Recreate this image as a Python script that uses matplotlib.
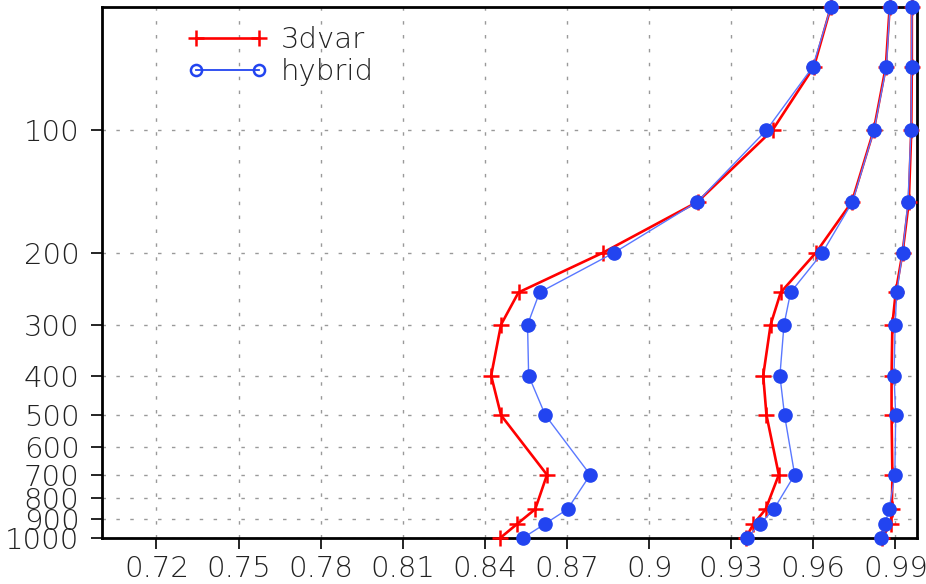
import matplotlib
matplotlib.use('Agg')
import matplotlib.pyplot as plt
from matplotlib.lines import Line2D

# pressure levels (hPa)
levels = [1000, 925, 850, 700, 500, 400, 300, 250, 200, 150, 100, 70, 50]

# 3dvar scores, three profiles
var3d_a = [0.8456, 0.8517, 0.8584, 0.8627, 0.8459, 0.8423, 0.8459, 0.8523, 0.8830, 0.9177, 0.9451, 0.9602, 0.9664]
var3d_b = [0.9353, 0.9381, 0.9426, 0.9474, 0.9429, 0.9417, 0.9444, 0.9481, 0.9609, 0.9741, 0.9821, 0.9865, 0.9879]
var3d_c = [0.9850, 0.9883, 0.9887, 0.9889, 0.9886, 0.9886, 0.9889, 0.9901, 0.9926, 0.9949, 0.9958, 0.9960, 0.9960]

# hybrid scores, same three profiles
hyb_a = [0.8539, 0.8618, 0.8702, 0.8785, 0.8621, 0.8560, 0.8556, 0.8600, 0.8871, 0.9176, 0.9429, 0.9598, 0.9664]
hyb_b = [0.9356, 0.9405, 0.9456, 0.9532, 0.9495, 0.9478, 0.9493, 0.9517, 0.9633, 0.9743, 0.9822, 0.9867, 0.9880]
hyb_c = [0.9847, 0.9862, 0.9877, 0.9898, 0.9901, 0.9895, 0.9899, 0.9905, 0.9926, 0.9946, 0.9957, 0.9959, 0.9960]

xticks = [0.72, 0.75, 0.78, 0.81, 0.84, 0.87, 0.9, 0.93, 0.96, 0.99]
yticks = [100, 200, 300, 400, 500, 600, 700, 800, 900, 1000]

RED = '#ff0000'
BLUE = '#2244f0'
BLUE_LINE = '#5a78ff'
FS = 21

plt.rcParams['font.family'] = ['DejaVu Sans']
fig = plt.figure(figsize=(9.26, 5.84), dpi=100)
ax = fig.add_axes([0.1098, 0.0788, 0.8808, 0.9087])

for xs in (var3d_a, var3d_b, var3d_c):
    ax.plot(xs, levels, color=RED, lw=1.9, marker='+', ms=12, mew=1.8, zorder=3, clip_on=False)
for xs in (hyb_a, hyb_b, hyb_c):
    ax.plot(xs, levels, color=BLUE_LINE, lw=1.0, marker='o', ms=9.5, mfc=BLUE, mec=BLUE,
            zorder=4, clip_on=False)

ax.set_yscale('log')
ax.set_ylim(1000, 50)
ax.set_xlim(0.70, 0.998)
ax.set_yticks(yticks)
ax.set_yticklabels([str(v) for v in yticks])
ax.minorticks_off()
ax.set_xticks(xticks)
ax.set_xticklabels([f'{v:g}' for v in xticks])

ax.tick_params(direction='out', length=8, width=1.2, labelsize=FS, colors='black')
ax.tick_params(axis='x', pad=4)
ax.tick_params(axis='y', pad=8)
for lab in ax.get_xticklabels() + ax.get_yticklabels():
    lab.set_fontweight('light')
    lab.set_color('#222222')

ax.grid(True, color='#999999', lw=1.0, linestyle=(0, (2.5, 7.5)))
for sp in ax.spines.values():
    sp.set_linewidth(2.0)

handles = [
    Line2D([], [], color=RED, lw=1.9, marker='+', ms=12, mew=1.8),
    Line2D([], [], color=BLUE, lw=1.3, marker='o', ms=8, mfc='none', mew=1.8),
]
leg = ax.legend(handles, ['3dvar', 'hybrid'], loc='upper left', bbox_to_anchor=(0.105, 0.964),
                frameon=False, numpoints=2, handlelength=2.75, handletextpad=0.45,
                borderpad=0, borderaxespad=0, labelspacing=0.12,
                prop={'size': FS, 'weight': 'light'})
for t in leg.get_texts():
    t.set_color('#222222')

fig.savefig('out.png', dpi=100)
